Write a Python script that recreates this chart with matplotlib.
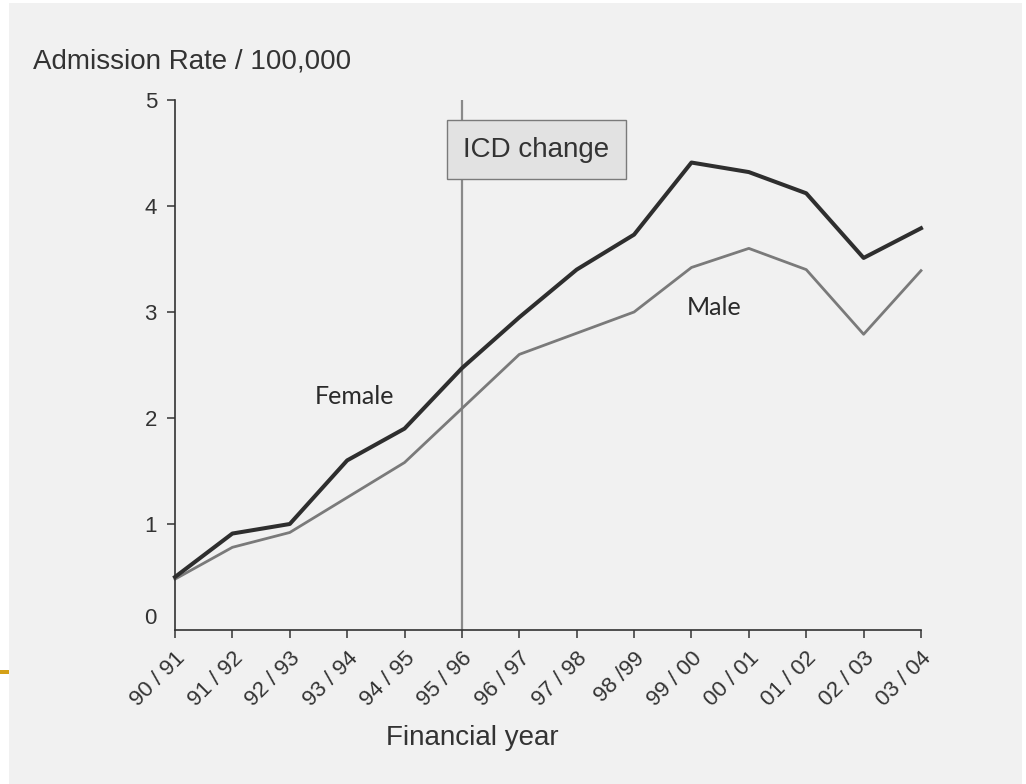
import matplotlib
matplotlib.use('Agg')
import matplotlib.pyplot as plt
import matplotlib.transforms as mtrans
from matplotlib.patches import Rectangle

years = ['90 / 91', '91 / 92', '92 / 93', '93 / 94', '94 / 95', '95 / 96', '96 / 97',
         '97 / 98', '98 /99', '99 / 00', '00 / 01', '01 / 02', '02 / 03', '03 / 04']
female = [0.50, 0.91, 1.00, 1.60, 1.90, 2.47, 2.95, 3.40, 3.73, 4.41, 4.32, 4.12, 3.51, 3.79]
male = [0.48, 0.78, 0.92, 1.25, 1.58, 2.09, 2.60, 2.80, 3.00, 3.42, 3.60, 3.40, 2.79, 3.39]
yticks = [0, 1, 2, 3, 4, 5]
icd_year = 5  # index of 95 / 96

plt.rcParams['font.family'] = ['Liberation Sans', 'DejaVu Sans']
ink = '#333333'

fig = plt.figure(figsize=(10.26, 7.84), dpi=100, facecolor='white')
# scanned page background
fig.patches.append(Rectangle((9 / 1026, 0), 1013 / 1026, 781 / 784,
                             transform=fig.transFigure, facecolor='#f1f1f1',
                             edgecolor='none', zorder=-10))
# slide decoration on the left
fig.patches.append(Rectangle((0, 1 - 674 / 784), 9 / 1026, 4 / 784,
                             transform=fig.transFigure, facecolor='#d4a017',
                             edgecolor='none', zorder=-9))

ax = fig.add_axes([175 / 1026, 1 - 630 / 784, 746 / 1026, 530 / 784])
ax.set_facecolor('none')

x = list(range(len(years)))
ax.axvline(icd_year, color='#8a8a8a', lw=1.6, zorder=1)
ax.plot(x, male, color='#7a7a7a', lw=2.0, zorder=2, clip_on=False)
ax.plot(x, female, color='#2e2e2e', lw=2.9, zorder=3, clip_on=False)

ax.set_xlim(0, len(years) - 1)
ax.set_ylim(0, 5)
ax.set_xticks(x)
ax.set_xticklabels(years, rotation=45, ha='right', va='top',
                   rotation_mode='anchor', fontsize=16, color=ink)
ax.set_yticks(yticks)
ax.set_yticklabels([str(v) for v in yticks], fontsize=16, color=ink)
ax.tick_params(axis='both', length=6, width=1.1, color=ink, pad=7)

for s in ['top', 'right']:
    ax.spines[s].set_visible(False)
for s in ['left', 'bottom']:
    ax.spines[s].set_color(ink)
    ax.spines[s].set_linewidth(1.2)

# the zero label sits a little above the axis in the original
ax.yaxis.get_major_ticks()[0].tick1line.set_visible(False)
lab0 = ax.get_yticklabels()[0]
lab0.set_transform(lab0.get_transform() +
                   mtrans.ScaledTranslation(0, 14 / 100, fig.dpi_scale_trans))

ax.text(6.3, 4.53, 'ICD change', fontsize=20, color=ink, ha='center', va='center',
        bbox=dict(boxstyle='square,pad=0.6', facecolor='#e2e2e2',
                  edgecolor='#7a7a7a', lw=1.0), zorder=4)
ax.text(3.12, 2.2, 'Female', fontsize=18, family=['Lato', 'DejaVu Sans'],
        color='#2a2a2a', ha='center', va='center')
ax.text(9.39, 3.04, 'Male', fontsize=18, family=['Lato', 'DejaVu Sans'],
        color='#2a2a2a', ha='center', va='center')

fig.text(33 / 1026, 1 - 62 / 784, 'Admission Rate / 100,000', fontsize=20,
         color=ink, ha='left', va='center')
fig.text(472 / 1026, 1 - 738 / 784, 'Financial year', fontsize=20,
         color=ink, ha='center', va='center')

fig.savefig('out.png', dpi=100, facecolor=fig.get_facecolor())
